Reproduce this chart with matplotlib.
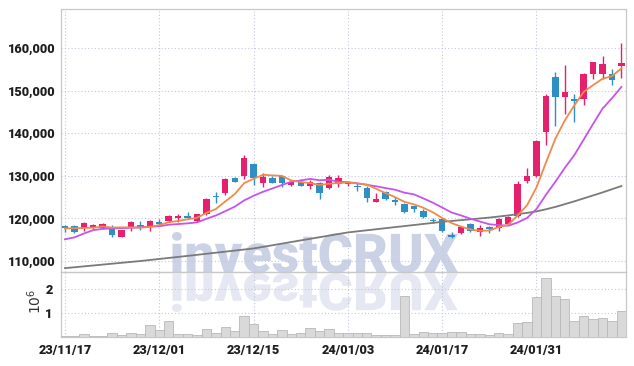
import numpy as np
import matplotlib
matplotlib.use("Agg")
import matplotlib.pyplot as plt
from matplotlib.textpath import TextPath
from matplotlib.patches import PathPatch
from matplotlib.font_manager import FontProperties
from matplotlib.transforms import Affine2D, IdentityTransform

# daily candles, 23/11/17 .. 24/02/15
opens = [118200, 118200, 117800, 117800, 117800, 117700, 115700, 118000, 118400, 118000,
         119200, 119400, 120100, 120500, 119300, 121000, 125200, 126000, 129500, 130000,
         132700, 128400, 129500, 129900, 127800, 128500, 127700, 128200, 127200, 128100,
         128100, 127600, 127200, 123900, 126200, 124300, 123500, 122900, 121800, 119600,
         119800, 116100, 116500, 118600, 116700, 118000, 117700, 118700, 120500, 128800,
         130000, 140200, 153100, 148600, 148100, 148000, 154000, 154000, 153900, 155800]
highs = [118400, 118400, 119200, 118700, 119000, 118400, 117300, 119400, 119300, 119600,
         119800, 120800, 121000, 121600, 121100, 124800, 126200, 129400, 129700, 135000,
         133100, 130600, 129900, 130000, 128900, 129200, 129000, 128600, 130300, 130300,
         128900, 128400, 127500, 125900, 126500, 125100, 123700, 123000, 122200, 120200,
         120000, 116900, 118100, 118900, 118400, 118200, 120000, 120600, 128900, 131900,
         138300, 149100, 154400, 156100, 149300, 154200, 156800, 158100, 155100, 161200]
lows = [116900, 116600, 117000, 117400, 117600, 115700, 115600, 117100, 117300, 117100,
        118500, 119200, 119200, 119900, 119100, 120800, 123700, 125600, 128500, 129200,
        127800, 127400, 128300, 127400, 127500, 127600, 126800, 124500, 126900, 127400,
        127700, 126500, 123900, 123800, 124300, 123100, 121200, 121500, 120200, 119000,
        116900, 115400, 116300, 116800, 115800, 116500, 117100, 118500, 120400, 128200,
        129700, 137300, 141800, 144600, 142700, 146700, 152700, 152700, 151400, 153000]
closes = [117800, 116900, 119000, 118400, 118700, 116200, 117200, 119100, 118000, 119400,
          118700, 120500, 120500, 120100, 121000, 124600, 125000, 129200, 128600, 134100,
          129600, 129800, 128400, 128200, 128600, 127700, 128600, 126000, 129800, 129400,
          128500, 127300, 124900, 124600, 124500, 123800, 121600, 122100, 120400, 119300,
          117100, 115600, 118000, 117000, 117800, 117400, 119800, 120400, 128000, 130000,
          138200, 148800, 148600, 149600, 147500, 154000, 156700, 156300, 152400, 156500]

ma_short = [117650, 117700, 117750, 117850, 118100, 117850, 117900, 117900, 117850, 118000,
            118450, 119100, 119400, 119800, 120150, 121300, 122200, 124000, 125700, 128300,
            129300, 130250, 130100, 130000, 128900, 128550, 128300, 127850, 128150, 128300,
            128450, 128200, 127950, 126950, 125950, 125000, 123900, 123300, 122500, 121450,
            120100, 118900, 118100, 117400, 117100, 117150, 118000, 118500, 120700, 123100,
            127300, 133100, 138700, 143000, 146500, 149700, 151300, 152800, 153400, 155200]
ma_mid = [115100, 115550, 116450, 117250, 117550, 117650, 117720, 117800, 117900, 118070,
          118160, 118520, 118670, 118840, 119070, 119910, 120690, 121700, 122760, 124230,
          125320, 126250, 127040, 127850, 128610, 128920, 129280, 128960, 129080, 128610,
          128500, 128250, 127900, 127540, 127130, 126740, 126040, 125650, 124710, 123700,
          122560, 121390, 120700, 119940, 119270, 118630, 118450, 118280, 119040, 120110,
          122220, 125540, 128600, 131860, 134830, 138490, 142180, 145770, 148210, 150860]
ma_long = [108330, 108530, 108740, 108950, 109160, 109370, 109580, 109790, 110000, 110240,
           110480, 110720, 110960, 111200, 111450, 111700, 111950, 112200, 112450, 112700,
           112950, 113320, 113700, 114080, 114460, 114840, 115210, 115590, 115960, 116340,
           116710, 116960, 117210, 117460, 117710, 117960, 118200, 118450, 118700, 118950,
           119200, 119400, 119600, 119800, 120000, 120200, 120450, 120700, 121000, 121300,
           121650, 122150, 122700, 123350, 124000, 124700, 125400, 126100, 126850, 127600]

# volume in millions of shares
volume = [0.05, 0.05, 0.10, 0.02, 0.05, 0.14, 0.06, 0.14, 0.10, 0.48,
          0.27, 0.65, 0.10, 0.10, 0.06, 0.31, 0.14, 0.39, 0.23, 0.86,
          0.52, 0.23, 0.10, 0.27, 0.10, 0.14, 0.35, 0.23, 0.31, 0.14,
          0.14, 0.14, 0.14, 0.06, 0.06, 0.06, 1.70, 0.10, 0.18, 0.14,
          0.14, 0.18, 0.18, 0.10, 0.10, 0.06, 0.14, 0.10, 0.56, 0.60,
          1.66, 2.46, 1.72, 1.60, 0.68, 0.89, 0.76, 0.80, 0.64, 1.10]

tick_pos = [0, 10, 20, 30, 40, 50]
tick_labels = ["23/11/17", "23/12/01", "23/12/15", "24/01/03", "24/01/17", "24/01/31"]
price_ticks = [110000, 120000, 130000, 140000, 150000, 160000]

UP = "#e5206c"
DOWN = "#2d8fc4"
GRID = "#c3c7dc"
SPINE = "#c8c8c8"
tick_font = dict(family=["Roboto", "DejaVu Sans"], weight="black", size=9.2, color="#1e1e1e")

W, H = 634, 366
fig = plt.figure(figsize=(W / 100, H / 100), dpi=100, facecolor="white")
ax = fig.add_axes([61 / W, 1 - 272.3 / H, 564.7 / W, 263 / H], facecolor="none")
axv = fig.add_axes([61 / W, 1 - 336.7 / H, 564.7 / W, 64.4 / H], facecolor="none", sharex=ax)

x = np.arange(len(closes))
o = np.array(opens); c = np.array(closes)
colors = [UP if cc >= oo else DOWN for oo, cc in zip(opens, closes)]

ax.vlines(x, lows, highs, colors=colors, lw=1.0, zorder=3)
body_lo = np.minimum(o, c)
body_h = np.maximum(np.abs(c - o), 300)
ax.bar(x, body_h, bottom=body_lo, width=0.68, color=colors, lw=0, zorder=4)

ax.plot(x, ma_long, color="#7a7a7a", lw=1.3, zorder=5)
ax.plot(x, ma_mid, color="#c653ee", lw=1.3, zorder=5)
ax.plot(x, ma_short, color="#f08a4c", lw=1.3, zorder=6)

ax.set_xlim(-0.42, 59.46)
ax.set_ylim(107350, 169100)
ax.set_yticks(price_ticks)
ax.set_yticklabels([f"{v:,}" for v in price_ticks], **tick_font)
ax.tick_params(axis="both", length=0, pad=4)
ax.tick_params(axis="x", labelbottom=False)

axv.bar(x, volume, width=1.0, color="#d9d9d9", edgecolor="#b8b8b8", lw=0.6, zorder=3)
axv.set_ylim(0, 2.71)
axv.set_yticks([1, 2])
axv.set_yticklabels(["1", "2"], **tick_font)
axv.set_xticks(tick_pos)
axv.set_xticklabels(tick_labels, **tick_font)
axv.tick_params(axis="both", length=0)
axv.tick_params(axis="y", pad=6)
axv.tick_params(axis="x", pad=5)
axv.set_ylabel("$10^6$", fontsize=10, color="#333333")
axv.yaxis.set_label_coords(-0.03, 0.55)

for a in (ax, axv):
    a.grid(True, color=GRID, ls=(0, (1, 2)), lw=0.8, zorder=0)
    a.set_axisbelow(True)
    for s in a.spines.values():
        s.set_color(SPINE)
        s.set_linewidth(0.9)

# watermark with its reflection, drawn in pixel space behind the axes
fp = FontProperties(family="Roboto", weight="black")
tp = TextPath((0, 0), "investCRUX", size=40, prop=fp)
ext = tp.get_extents()
sx = 286 / ext.width
sy = 41 / ext.height
base_y = H - 272.5
main_tr = Affine2D().translate(-ext.x0, 0).scale(sx, sy).translate(172, base_y)
refl_tr = Affine2D().translate(-ext.x0, 0).scale(sx, -sy * 0.95).translate(172, base_y - 1)
fig.add_artist(PathPatch(main_tr.transform_path(tp), transform=IdentityTransform(),
                         facecolor="#ccd2e6", lw=0, zorder=-1))
fig.add_artist(PathPatch(refl_tr.transform_path(tp), transform=IdentityTransform(),
                         facecolor="#e5e8f2", lw=0, zorder=-1))

fig.savefig("out.png", dpi=100, facecolor="white")
